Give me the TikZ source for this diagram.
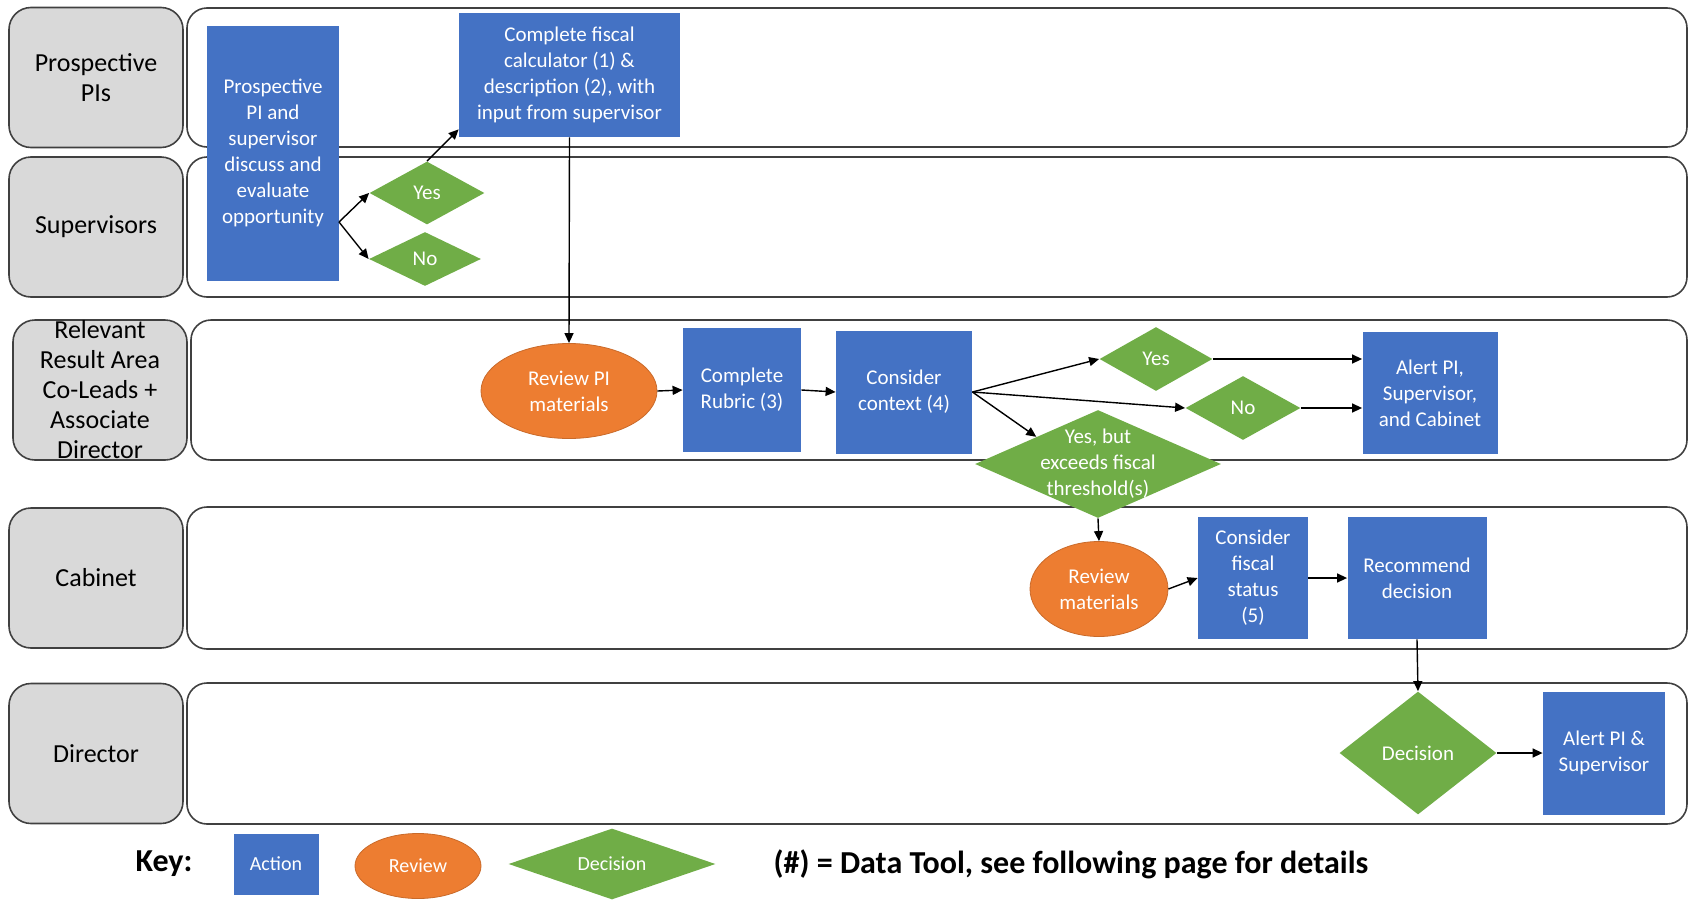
\documentclass[tikz,border=0pt]{standalone}
\usepackage{fontspec}
\setmainfont{Carlito}
\usepackage{xcolor}
\usetikzlibrary{shapes.geometric,arrows.meta,positioning,calc}

\definecolor{actblue}{HTML}{4472C4}
\definecolor{revorange}{HTML}{ED7D31}
\definecolor{decgreen}{HTML}{70AD47}
\definecolor{lanegray}{HTML}{D9D9D9}

\begin{document}
\begin{tikzpicture}[x=0.5pt, y=-0.5pt,
    lanelabel/.style={draw=black!75, fill=lanegray, line width=0.8pt, rounded corners=11pt,
        minimum width=87pt, minimum height=70pt, inner sep=0pt, align=center,
        font=\fontsize{13}{15}\selectfont},
    lanebody/.style={draw=black!75, line width=0.8pt, rounded corners=10pt},
    action/.style={fill=actblue, text=white, inner sep=0pt, align=center,
        font=\fontsize{10.5}{13}\selectfont},
    review/.style={ellipse, fill=revorange, draw=revorange!85!black, line width=0.4pt,
        text=white, inner sep=0pt, align=center, font=\fontsize{10.5}{13}\selectfont},
    decision/.style={diamond, aspect=2, fill=decgreen, text=white, inner sep=0pt,
        align=center, font=\fontsize{10.5}{13}\selectfont},
    dectext/.style={text=white, align=center, font=\fontsize{10.5}{13}\selectfont},
    flow/.style={-{Triangle[length=5pt,width=4.5pt]}, line width=0.7pt}
]
    \useasboundingbox (0,0) rectangle (1688,900);

    % Lanes
    \foreach \i/\xo/\yt/\yb/\txt in {1/0/8/147/{Prospective\\PIs}, 2/0/157/297/Supervisors,
        3/4/320/460/{Relevant\\Result Area\\Co-Leads +\\Associate\\Director},
        4/0/507/649/Cabinet, 5/0/683/824/Director} {
        \draw[lanebody] (187+\xo,\yt) rectangle (1687,\yb);
        \node[lanelabel] (lane\i) at (96+\xo,{(\yt+\yb)/2}) {\txt};
    }

    % Prospective PIs / Supervisors
    \node[action, minimum width=66pt, minimum height=127.5pt] (discuss) at (273,153)
        {Prospective\\PI and\\supervisor\\discuss and\\evaluate\\opportunity};
    \node[action, minimum width=110.5pt, minimum height=62pt] (calc) at (569.5,75)
        {Complete fiscal\\calculator (1) \&\\description (2), with\\input from supervisor};
    \node[decision, minimum width=57.5pt, minimum height=31.5pt] (yes1) at (427,193) {Yes};
    \node[decision, minimum width=56pt, minimum height=27pt] (no1) at (425,259) {No};
    \coordinate (fork) at (339,222);

    % Relevant Result Area Co-Leads + Associate Director
    \node[review, minimum width=88pt, minimum height=47.5pt] (revpi) at (569,391) {Review PI\\materials};
    \node[action, minimum width=59pt, minimum height=62pt] (rubric) at (742,390) {Complete\\Rubric (3)};
    \node[action, minimum width=68pt, minimum height=61.5pt] (context) at (904,392) {Consider\\context (4)};
    \node[decision, minimum width=56.5pt, minimum height=32pt] (yes2) at (1156,359) {Yes};
    \node[decision, minimum width=57.5pt, minimum height=32pt] (no2) at (1243,408) {No};
    \node[action, minimum width=67.5pt, minimum height=61pt] (alertall) at (1430,393)
        {Alert PI,\\Supervisor,\\and Cabinet};
    \node[decision, minimum width=123pt, minimum height=54pt,
        label={[dectext]center:Yes, but\\exceeds fiscal\\threshold(s)}] (exceed) at (1098,464) {};

    % Cabinet
    \node[review, minimum width=69pt, minimum height=47.5pt] (revmat) at (1099,589) {Review\\materials};
    \node[action, minimum width=55pt, minimum height=61pt] (fiscal) at (1253,578) {Consider\\fiscal\\status\\(5)};
    \node[action, minimum width=69.5pt, minimum height=61pt] (recommend) at (1417,578) {Recommend\\decision};

    % Director
    \node[decision, minimum width=78.5pt, minimum height=61.5pt] (decide) at (1418,753) {Decision};
    \node[action, minimum width=61pt, minimum height=61.5pt] (alertpi) at (1604,753) {Alert PI \&\\Supervisor};

    % Arrows
    \draw[flow] (fork) -- (yes1.west);
    \draw[flow] (fork) -- (no1.west);
    \draw[flow] (yes1.north) -- ([yshift=4pt]calc.south west);
    \draw[flow] (calc.south) -- (revpi.north);
    \draw[flow] (revpi.east) -- (rubric.west);
    \draw[flow] (rubric.east) -- (context.west);
    \draw[flow] (context.east) -- (yes2.west);
    \draw[flow] (context.east) -- (no2.west);
    \draw[flow] (context.east) -- (exceed.north west);
    \draw[flow] (yes2.east) -- (yes2.east -| alertall.west);
    \draw[flow] (no2.east) -- (no2.east -| alertall.west);
    \draw[flow] (exceed.south) -- (revmat.north);
    \draw[flow] (revmat.east) -- (fiscal.west);
    \draw[flow] (fiscal.east) -- (recommend.west);
    \draw[flow] (recommend.south) -- (decide.north);
    \draw[flow] (decide.east) -- (alertpi.west);

    % Key
    \node[font=\bfseries\fontsize{16}{19}\selectfont] (key) at (164,864) {Key:};
    \node[action, minimum width=42.5pt, minimum height=30.5pt, font=\fontsize{10}{12}\selectfont] (keyact) at (276,864) {Action};
    \node[review, minimum width=63pt, minimum height=32.5pt, font=\fontsize{10}{12}\selectfont] (keyrev) at (418,866) {Review};
    \node[decision, minimum width=103.5pt, minimum height=35.5pt, font=\fontsize{10}{12}\selectfont] (keydec) at (612,864) {Decision};
    \node[font=\bfseries\fontsize{16}{19}\selectfont] (note) at (1071,864) {(\#) = Data Tool, see following page for details};
\end{tikzpicture}
\end{document}
